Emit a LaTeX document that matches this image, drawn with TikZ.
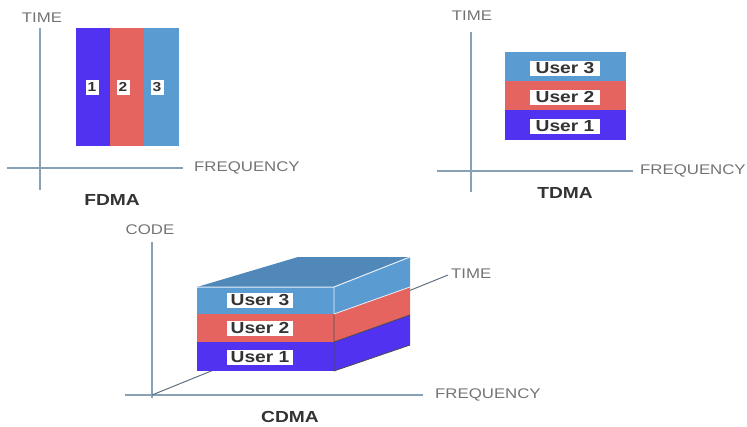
\documentclass[tikz,border=0pt]{standalone}
\usepackage{fontspec}
\setmainfont{Liberation Sans}
\usepackage{graphicx}

\definecolor{uone}{RGB}{80,50,240}
\definecolor{utwo}{RGB}{230,100,95}
\definecolor{uthree}{RGB}{90,155,210}
\definecolor{axisgray}{RGB}{135,162,182}
\definecolor{labelgray}{RGB}{115,115,115}

\newcommand{\wide}[1]{\scalebox{1.2}[1]{#1}}

\tikzset{
    axline/.style = {draw = axisgray, line width = 1.6pt},
    axlabel/.style = {text = labelgray, inner sep = 0pt, font = \fontsize{14}{14}\selectfont},
    panelname/.style = {text = black!80, inner sep = 0pt, font = \bfseries\fontsize{16}{16}\selectfont},
    userbox/.style = {fill = white, text = black!80, inner sep = 0pt, minimum width = 66pt, minimum height = 15pt, font = \bfseries\fontsize{16}{16}\selectfont},
    numbox/.style = {fill = white, text = black!80, inner sep = 0pt, minimum width = 13pt, minimum height = 15pt, font = \bfseries\fontsize{13}{13}\selectfont}
}

\begin{document}
\begin{tikzpicture}[x = 1pt, y = -1pt]
            \useasboundingbox (0,0) rectangle (747,426);

            % FDMA
            \coordinate (f-top) at (40,28);
            \coordinate (f-bot) at (40,190);
            \coordinate (f-left) at (7,168);
            \coordinate (f-right) at (183,168);

            \fill[uone] (76,28) rectangle (110,146);
            \fill[utwo] (110,28) rectangle (144,146);
            \fill[uthree] (144,28) rectangle (179,146);
            \node[numbox] (f-one) at (92,87) {\wide{1}};
            \node[numbox] (f-two) at (123,87) {\wide{2}};
            \node[numbox] (f-three) at (157,87) {\wide{3}};

            \draw[axline] (f-top) -- (f-bot);
            \draw[axline] (f-left) -- (f-right);
            \node[axlabel] (f-time) at (42,18) {\wide{TIME}};
            \node[axlabel, anchor = west] (f-freq) at (194,168) {\wide{FREQUENCY}};
            \node[panelname] (f-name) at (112,200) {\wide{FDMA}};

            % TDMA
            \coordinate (t-top) at (471,32);
            \coordinate (t-bot) at (471,192);
            \coordinate (t-left) at (437,171);
            \coordinate (t-right) at (633,171);

            \fill[uthree] (505,52) rectangle (626,81);
            \fill[utwo] (505,81) rectangle (626,110);
            \fill[uone] (505,110) rectangle (626,140);
            \node[userbox, minimum width = 70pt] (t-three) at (565,68) {\wide{User 3}};
            \node[userbox, minimum width = 70pt] (t-two) at (565,97) {\wide{User 2}};
            \node[userbox, minimum width = 70pt] (t-one) at (565,126) {\wide{User 1}};

            \draw[axline] (t-top) -- (t-bot);
            \draw[axline] (t-left) -- (t-right);
            \node[axlabel] (t-time) at (472,16) {\wide{TIME}};
            \node[axlabel, anchor = west] (t-freq) at (640,171) {\wide{FREQUENCY}};
            \node[panelname] (t-name) at (565,193) {\wide{TDMA}};

            % CDMA
            \coordinate (c-org) at (152,395);
            \coordinate (c-top) at (152,242);
            \coordinate (c-bot) at (152,398);
            \coordinate (c-left) at (125,395);
            \coordinate (c-right) at (423,395);
            \coordinate (c-depth) at (448,275);

            \draw[axline] (c-top) -- (c-bot);
            \draw[axline] (c-left) -- (c-right);
            \draw[axisgray!70!black, line width = 1pt] (c-org) -- (c-depth);

            % the box
            \fill[uthree!88!black] (197,287) -- (298,257) -- (410,257) -- (334,287) -- cycle;
            \fill[uthree] (334,287) -- (410,257) -- (410,287) -- (334,314) -- cycle;
            \fill[utwo] (334,314) -- (410,287) -- (410,315) -- (334,342) -- cycle;
            \fill[uone] (334,342) -- (410,315) -- (410,345) -- (334,371) -- cycle;
            \fill[uthree] (197,287) rectangle (334,314);
            \fill[utwo] (197,314) rectangle (334,342);
            \fill[uone] (197,342) rectangle (334,371);

            \draw[white!85!uthree, line width = 1pt] (197,287) -- (334,287) -- (410,257);
            \draw[white!85!uthree, line width = 0.8pt] (334,287) -- (334,314) (334,314) -- (410,287);
            \draw[black!70, line width = 0.8pt] (334,314) -- (334,371) (334,342) -- (410,315) (334,371) -- (410,345);

            \node[userbox, minimum width = 66pt] (c-three) at (260,300) {\wide{User 3}};
            \node[userbox, minimum width = 66pt] (c-two) at (260,328) {\wide{User 2}};
            \node[userbox, minimum width = 66pt] (c-one) at (260,357) {\wide{User 1}};

            \node[axlabel] (c-code) at (150,230) {\wide{CODE}};
            \node[axlabel, anchor = west] (c-time) at (451,274) {\wide{TIME}};
            \node[axlabel, anchor = west] (c-freq) at (435,395) {\wide{FREQUENCY}};
            \node[panelname] (c-name) at (290,417) {\wide{CDMA}};
        \end{tikzpicture}
\end{document}
